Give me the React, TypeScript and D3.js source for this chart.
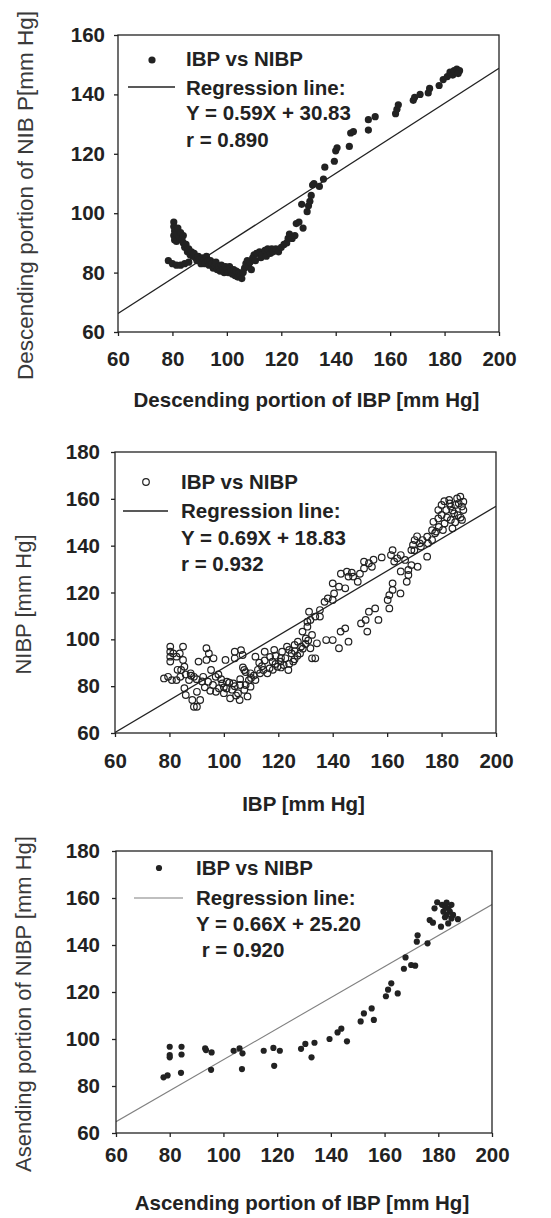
import React, { useRef, useEffect } from 'react'
import * as d3 from 'd3'

// axis ticks
const xTicks = [60, 80, 100, 120, 140, 160, 180, 200]
const yTicksDesc = [60, 80, 100, 120, 140, 160]
const yTicksFull = [60, 80, 100, 120, 140, 160, 180]

// descending portion: IBP vs NIBP
const descPoints: [number, number][] = [
  [78.5, 84], [80, 83], [81.5, 82.5], [83, 82.5], [84.5, 83], [86, 83.5],
  [80.5, 97], [80.5, 95.5], [80.8, 94], [80.5, 92.5], [80.8, 91], [81.5, 90.5],
  [81.5, 93], [82, 95], [82.5, 92], [83, 93.5], [83.5, 91], [84, 92.5], [84, 90],
  [84.5, 88.5], [85, 89.5], [85.5, 87], [86, 88], [86.5, 86], [87, 87], [87.5, 85.5],
  [88, 86.5], [88.5, 85], [89, 84], [89.5, 85.5], [90, 84.5], [90.5, 83], [91, 85],
  [91.5, 84], [92, 83], [92.5, 85.5], [93, 84], [93.5, 82.5], [94, 84], [94.5, 83],
  [95, 81.5], [95.5, 82.5], [96, 83.5], [96.5, 81], [97, 82], [97.5, 80.5], [98, 82.5],
  [98.5, 81], [99, 80], [99.5, 82], [100, 81], [100.5, 80], [101, 82], [101.5, 80.5],
  [102, 79.5], [102.5, 81], [103, 79], [103.5, 80.5], [104, 78.5], [104.5, 80],
  [105, 79], [105.5, 78], [106, 80], [106.5, 81.5], [107, 83], [107.5, 84], [108, 82],
  [108.5, 83.5], [109, 81], [109.5, 85], [110, 86], [110.5, 84], [111, 86.5], [112, 87],
  [112.5, 85], [113, 86], [114, 87.5], [114.5, 85.5], [115, 88], [116, 86.5], [116.5, 88],
  [117, 87], [118, 88], [119, 87], [120, 88.5], [121, 89.5], [122, 90], [122.5, 91.5],
  [123, 93], [124, 91.5], [125, 92.5], [125.5, 96.5], [126.5, 97], [127.5, 103], [128, 95],
  [129.5, 100.5], [130, 102.5], [130.5, 104], [131, 106], [131.5, 109.5], [132, 110],
  [134, 109], [135.5, 111.5], [136, 115.5], [139.5, 117.5], [140, 121], [140.5, 122],
  [145, 122.5], [145.5, 127], [146.5, 127.5], [152, 128], [152, 131.5], [154.5, 132.5],
  [162, 133.5], [162.5, 135], [163, 136.5], [168.5, 138], [169, 139], [171, 140],
  [174, 140.5], [174.5, 142], [178, 143], [179.5, 145], [181, 146], [182, 147.5],
  [183, 146.5], [183.5, 148], [184.5, 148.5], [185.5, 148], [185, 147],
]

// whole cycle: IBP vs NIBP
const allPoints: [number, number][] = [
  [78, 83.3], [79.5, 84], [80.3, 96.9], [80.3, 94.7], [80.3, 92.6], [80.3, 90.5],
  [81.4, 94], [82.6, 92.6], [83.8, 94], [85, 96.9], [85, 91.2], [85.5, 88.3], [84.3, 86.9],
  [80.9, 82.6], [82.6, 82.6], [85.5, 79.1], [86, 76.2], [88.4, 74.1], [89, 71.2],
  [90.1, 71.2], [91.3, 74.1], [90.1, 77.6], [90.7, 90.5], [93.6, 91.2], [93.6, 96.2],
  [94.5, 94], [96.2, 91.9], [95.3, 86.9], [92.4, 84], [89, 84], [87.8, 85.5], [87.2, 82.6],
  [94.2, 81.9], [96, 80.5], [97.1, 77.6], [98.2, 79.1], [99.4, 81.2], [100, 77],
  [101.1, 81.9], [100.6, 91.2], [102.3, 74.8], [103.5, 81.2], [104, 91.9], [104, 94.7],
  [105.8, 74.1], [105.2, 77], [106.3, 95.4], [106.9, 93.3], [107.5, 78.4], [108.7, 75.6],
  [109.8, 79.8], [109.8, 85.5], [107.5, 86.9], [109.2, 82.6], [111.6, 92.6], [111.6, 82.6],
  [113.3, 85.5], [115, 94.7], [114.5, 86.9], [116.8, 87.6], [118.5, 95.5], [117.9, 90.5],
  [119.7, 88.3], [121.4, 94.7], [120.8, 90.5], [122.6, 91.9], [123.2, 96.9], [123.7, 86.9],
  [124.9, 94], [125.5, 90.5], [126, 97.6], [127.2, 99], [128.4, 96.9], [128.9, 103.3],
  [130.1, 100.4], [130.7, 105.4], [130.7, 107.5], [131.3, 111.8], [131.8, 108.3],
  [132.4, 101.9], [132.4, 91.9], [133.6, 91.9], [134.2, 98.3], [131.8, 96.2], [133.6, 109.7],
  [135.3, 109.7], [135.3, 112.5], [137, 116], [138.2, 117.5], [137.6, 99.7], [140, 99.7],
  [140, 116.8], [140.5, 119.6], [140, 123.9], [142.3, 122.5], [142.3, 96.2], [142.9, 103.3],
  [144.6, 104.7], [145.8, 99], [144.6, 121.8], [145.2, 128.9], [145.8, 126.8], [147.5, 126.8],
  [149.2, 124.6], [150.4, 106.8], [152.1, 108.3], [152.7, 103.3], [153.3, 111.8],
  [151.5, 130.3], [151.5, 133.2], [153.3, 132.5], [154.4, 131], [155.6, 113.2], [156.8, 108.3],
  [160.2, 116.8], [160.8, 118.9], [160.8, 113.2], [162, 121.1], [162, 123.9], [161.4, 136],
  [162, 138.1], [162.6, 133.2], [163.7, 134.6], [164.9, 119.6], [166.6, 133.9], [167.2, 124.6],
  [167.8, 127.5], [167.8, 129.6], [168.9, 131.7], [168.9, 138.1], [169.5, 140.3], [170.1, 142.4],
  [171.2, 131], [172.4, 139.6], [173, 142.4], [174.7, 135.3], [174.7, 143.8], [176.5, 142.4],
  [176.5, 146.6], [177, 150.2], [177.6, 145.3], [178.8, 151.6], [178.8, 155.2], [180, 157.4],
  [180, 153.1], [180.5, 146.7], [181.1, 149.5], [181.7, 155.2], [182.8, 159.5], [183.4, 156.7],
  [183.4, 151], [184, 147.4], [184.6, 153.8], [185.1, 157.4], [185.7, 160.2], [186.3, 158.1],
  [186.9, 160.9], [187.5, 156.7], [187.5, 151], [188, 158.8], [188, 155.2],
  [97, 84], [99, 83], [101, 79], [103, 78.5], [104.5, 76], [106, 80.5], [108, 80.5],
  [110, 83.5], [111, 84.5], [112.5, 87], [114, 88.5], [116, 85.5], [118, 87], [119, 89.5],
  [121, 88], [122, 89], [124, 89.5], [126, 91.5], [127, 93], [128, 94], [129, 96], [130, 98],
  [131, 99.5], [83, 87], [84, 84], [86, 85], [88, 84.5], [90, 83], [92, 82], [93, 79.5],
  [95, 78], [98, 85], [100, 79.5], [102, 81.5], [104, 80], [106, 83], [107, 88], [108, 86],
  [113, 90], [115, 91], [117, 92.5], [119, 93], [121, 92], [124, 95.5], [126, 95],
  [143, 128], [147, 128.5], [150, 128], [155, 134], [158, 135], [165, 136], [170, 138],
  [172, 141], [175, 141], [178, 146], [179, 148], [182, 152], [184, 155], [185, 150],
  [186, 153], [183, 158], [181, 159], [187, 152], [171, 144], [165, 129],
]

// ascending portion: IBP vs NIBP
const ascPoints: [number, number][] = [
  [77.7, 83.7], [79.2, 84.5], [80, 96.7], [80, 93.2], [80, 92.2], [84.4, 96.7], [84.4, 93.4],
  [84.2, 85.6], [93.2, 96], [93.5, 95.3], [95.6, 94.3], [95.4, 86.9], [103.8, 95], [106, 96],
  [107.1, 93.9], [106.9, 87.2], [115, 95], [118.6, 96.2], [118.9, 88.6], [121, 95],
  [128.9, 95.8], [130.5, 97.9], [132.8, 92.2], [133.9, 98.4], [139.5, 100], [142.5, 102.8],
  [143.9, 104.4], [146, 99], [151.1, 107.5], [152.3, 110.9], [155.2, 113], [156, 108.1],
  [160.5, 118.2], [161.3, 121], [162.5, 123.7], [164.9, 119.4], [167.2, 129.9], [167.8, 134.7],
  [169.9, 131.5], [171.4, 131.2], [172.3, 144.1], [172, 141.4], [176, 140.7], [176.8, 150.6],
  [178, 149.5], [181, 147.8], [178.6, 155.6], [179.6, 158.2], [181.4, 157.1], [182.5, 156.3],
  [183.1, 158], [183.7, 155.6], [184.3, 154.2], [183.1, 152.8], [183.7, 149.2], [184.9, 151.3],
  [185.5, 152.8], [187.3, 151], [181.9, 154.2], [182.5, 151.8], [184.9, 157.1],
]

// regression fits [slope, intercept]
const descFit = [0.59, 30.83]
const allFit = [0.69, 18.83]
const ascFit = [0.66, 25.2]

const descLegend = ['IBP vs NIBP', 'Regression line:', 'Y = 0.59X + 30.83', 'r = 0.890']
const allLegend = ['IBP vs NIBP', 'Regression line:', 'Y = 0.69X + 18.83', 'r = 0.932']
const ascLegend = ['IBP vs NIBP', 'Regression line:', 'Y = 0.66X + 25.20', ' r = 0.920']

const FONT = '"Liberation Sans", Arial, Helvetica, sans-serif'
const INK = '#222'

const panels = [
  {
    points: descPoints, fit: descFit, legend: descLegend, yTicks: yTicksDesc, yMax: 160,
    left: 118, right: 499, top: 35, bottom: 332,
    xLabel: 'Descending portion of IBP [mm Hg]', xLabelY: 407,
    yLabel: 'Descending portion of NIB P[mm Hg]', yLabelX: 33, yLabelSize: 22.5,
    xPad: 15, yPad: 9, marker: 'dot', r: 3.6, lineColor: INK, lineWidth: 1.3,
    lg: { mx: 152, my: 60, lx1: 128, lx2: 175, ly: 87, tx: 186, rows: [66, 95, 120, 147] },
  },
  {
    points: allPoints, fit: allFit, legend: allLegend, yTicks: yTicksFull, yMax: 180,
    left: 115, right: 496, top: 452, bottom: 733,
    xLabel: 'IBP [mm Hg]', xLabelY: 811,
    yLabel: 'NIBP [mm Hg]', yLabelX: 31, yLabelSize: 22,
    xPad: 16, yPad: 11, marker: 'ring', r: 3.3, lineColor: INK, lineWidth: 1.3,
    lg: { mx: 146, my: 482, lx1: 123, lx2: 168, ly: 511, tx: 181, rows: [489, 518, 545, 571] },
  },
  {
    points: ascPoints, fit: ascFit, legend: ascLegend, yTicks: yTicksFull, yMax: 180,
    left: 116, right: 492, top: 851, bottom: 1133,
    xLabel: 'Ascending portion of IBP [mm Hg]', xLabelY: 1210,
    yLabel: 'Asending portion of NIBP [mm Hg]', yLabelX: 31, yLabelSize: 22,
    xPad: 10, yPad: 12, marker: 'dot', r: 3.1, lineColor: '#808080', lineWidth: 1.1,
    lg: { mx: 159, my: 868, lx1: 134, lx2: 183, ly: 898, tx: 196, rows: [875, 905, 931, 957] },
  },
]

function App() {
  const svgRef = useRef<SVGSVGElement>(null)

  useEffect(() => {
    document.body.style.margin = '0'
    if (!svgRef.current) return
    const svg = d3.select(svgRef.current)
    svg.selectAll('*').remove()

    panels.forEach((p) => {
      const g = svg.append('g')
      const x = d3.scaleLinear().domain([60, 200]).range([p.left, p.right])
      const y = d3.scaleLinear().domain([60, p.yMax]).range([p.bottom, p.top])

      // regression line, clipped to the frame
      const clipId = `clip-${p.top}`
      g.append('clipPath').attr('id', clipId)
        .append('rect')
        .attr('x', p.left).attr('y', p.top)
        .attr('width', p.right - p.left).attr('height', p.bottom - p.top)

      const [slope, icpt] = p.fit
      g.append('line')
        .attr('clip-path', `url(#${clipId})`)
        .attr('x1', x(60)).attr('y1', y(slope * 60 + icpt))
        .attr('x2', x(200)).attr('y2', y(slope * 200 + icpt))
        .attr('stroke', p.lineColor).attr('stroke-width', p.lineWidth)

      // points
      const pts = g.selectAll('circle.pt')
        .data(p.points)
        .join('circle')
        .attr('class', 'pt')
        .attr('cx', (d) => x(d[0]))
        .attr('cy', (d) => y(d[1]))
        .attr('r', p.r)
      if (p.marker === 'ring') {
        pts.attr('fill', 'none').attr('stroke', INK).attr('stroke-width', 1.2)
      } else {
        pts.attr('fill', INK)
      }

      // frame
      g.append('rect')
        .attr('x', p.left).attr('y', p.top)
        .attr('width', p.right - p.left).attr('height', p.bottom - p.top)
        .attr('fill', 'none').attr('stroke', INK).attr('stroke-width', 1.3)

      const xAxis = g.append('g')
        .attr('transform', `translate(0,${p.bottom})`)
        .call(d3.axisBottom(x).tickValues(xTicks).tickSize(4).tickPadding(p.xPad).tickFormat(d3.format('d')))
      const yAxis = g.append('g')
        .attr('transform', `translate(${p.left},0)`)
        .call(d3.axisLeft(y).tickValues(p.yTicks).tickSize(4).tickPadding(p.yPad).tickFormat(d3.format('d')))

      ;[xAxis, yAxis].forEach((a) => {
        a.select('.domain').remove()
        a.selectAll('.tick line').attr('stroke', INK).attr('stroke-width', 1.3)
        a.selectAll('text')
          .attr('font-family', FONT)
          .attr('font-size', 20.5)
          .attr('font-weight', 'bold')
          .attr('fill', '#222')
      })

      // axis titles
      g.append('text')
        .attr('x', (p.left + p.right) / 2 - 2)
        .attr('y', p.xLabelY)
        .attr('text-anchor', 'middle')
        .attr('font-family', FONT)
        .attr('font-size', 20.5)
        .attr('font-weight', 'bold')
        .attr('fill', '#222')
        .text(p.xLabel)

      g.append('text')
        .attr('transform', `translate(${p.yLabelX},${(p.top + p.bottom) / 2 + 12}) rotate(-90)`)
        .attr('text-anchor', 'middle')
        .attr('font-family', FONT)
        .attr('font-size', p.yLabelSize)
        .attr('fill', '#3a3a3a')
        .text(p.yLabel)

      // legend
      const lg = p.lg
      if (p.marker === 'ring') {
        g.append('circle').attr('cx', lg.mx).attr('cy', lg.my).attr('r', p.r)
          .attr('fill', 'none').attr('stroke', INK).attr('stroke-width', 1.2)
      } else {
        g.append('circle').attr('cx', lg.mx).attr('cy', lg.my).attr('r', p.r).attr('fill', INK)
      }
      g.append('line')
        .attr('x1', lg.lx1).attr('x2', lg.lx2).attr('y1', lg.ly).attr('y2', lg.ly)
        .attr('stroke', p.lineColor).attr('stroke-width', p.lineWidth)

      g.selectAll('text.lg')
        .data(p.legend)
        .join('text')
        .attr('class', 'lg')
        .attr('x', lg.tx)
        .attr('y', (d, i) => lg.rows[i])
        .attr('font-family', FONT)
        .attr('font-size', 20.5)
        .attr('font-weight', 'bold')
        .attr('fill', '#222')
        .style('white-space', 'pre')
        .text((d) => d)
    })
  }, [])

  return <svg ref={svgRef} width={551} height={1218} style={{ display: 'block', background: '#fff' }} />
}

export default App
